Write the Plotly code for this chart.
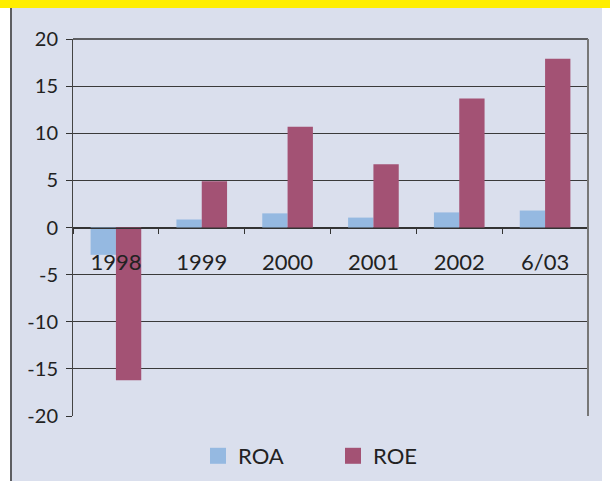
import plotly.graph_objects as go

categories = ["1998", "1999", "2000", "2001", "2002", "6/03"]
roa = [-2.9, 0.85, 1.5, 1.05, 1.6, 1.8]
roe = [-16.2, 4.9, 10.7, 6.7, 13.7, 17.9]
y_ticks = [-20, -15, -10, -5, 0, 5, 10, 15, 20]
y_tick_text = ["-20", "-15", "-10", "-5", "0", "5", "10", "15", "20"]

BG = "#DADFED"
FONT = "Lato"
ROA_C = "#95B9E1"
ROE_C = "#A35274"

# page body keeps its default 8px margin, so the figure is drawn 8px in from top-left
W, H = 602, 473
ML, MR, MT, MB = 65, 22, 31, 65
PW, PH = W - ML - MR, H - MT - MB

fig = go.Figure()
fig.add_trace(go.Bar(name="ROA", x=categories, y=roa, marker_color=ROA_C, marker_line_width=0,
                     showlegend=False))
fig.add_trace(go.Bar(name="ROE", x=categories, y=roe, marker_color=ROE_C, marker_line_width=0,
                     showlegend=False))
fig.add_trace(go.Scatter(name="ROA", x=[None], y=[None], mode="markers",
                         marker=dict(symbol="square", size=16, color=ROA_C)))
fig.add_trace(go.Scatter(name="ROE", x=[None], y=[None], mode="markers",
                         marker=dict(symbol="square", size=16, color=ROE_C)))

fig.update_layout(
    width=W, height=H,
    paper_bgcolor=BG, plot_bgcolor=BG,
    margin=dict(l=ML, r=MR, t=MT, b=MB, autoexpand=False),
    barmode="group", bargap=0.41, bargroupgap=0,
    font=dict(family=FONT, size=20, color="#222222"),
    showlegend=True,
    legend=dict(orientation="h", xref="container", yref="container",
                x=(198 - 8) / W, xanchor="left", y=(H - 448) / H, yanchor="middle",
                font=dict(size=22), bgcolor="rgba(0,0,0,0)", itemwidth=30,
                entrywidth=90, entrywidthmode="pixels", itemsizing="trace"),
    xaxis=dict(anchor="free", position=0.5, showline=True, linecolor="#333333", linewidth=1,
               ticks="outside", tickson="boundaries", ticklen=5, tickcolor="#333333",
               ticklabelstandoff=15, automargin=False,
               showgrid=False, tickfont=dict(size=22, family=FONT, color="#222222")),
    yaxis=dict(range=[-20, 20], tickvals=y_ticks, ticktext=y_tick_text,
               showline=True, linecolor="#444444", linewidth=1, automargin=False,
               ticks="outside", ticklen=6, tickcolor="#333333", ticklabelstandoff=4,
               showgrid=True, gridcolor="#3a3a3a", gridwidth=1, zeroline=True,
               zerolinecolor="#333333", zerolinewidth=1,
               tickfont=dict(size=20, family=FONT, color="#222222")),
    shapes=[
        # plot frame: top edge and right edge
        dict(type="line", xref="paper", yref="paper", x0=0, x1=1, y0=1, y1=1,
             line=dict(color="#333333", width=1.5)),
        dict(type="line", xref="paper", yref="paper", x0=1, x1=1, y0=0, y1=1,
             line=dict(color="#777777", width=2)),
        # left white strip with dark rule
        dict(type="rect", xref="paper", yref="paper", x0=-ML/PW, x1=-(ML-2)/PW, y0=-MB/PH, y1=1+MT/PH,
             fillcolor="white", line=dict(width=0), layer="below"),
        dict(type="line", xref="paper", yref="paper", x0=-(ML-3)/PW, x1=-(ML-3)/PW, y0=-MB/PH, y1=1+MT/PH,
             line=dict(color="#333333", width=1.5)),
    ],
)

fig.write_html(
    "out.html",
    config={"displayModeBar": False},
    post_script="document.body.style.background='linear-gradient(#FFEE00 0px, #FFEE00 8px, white 8px)';",
)
